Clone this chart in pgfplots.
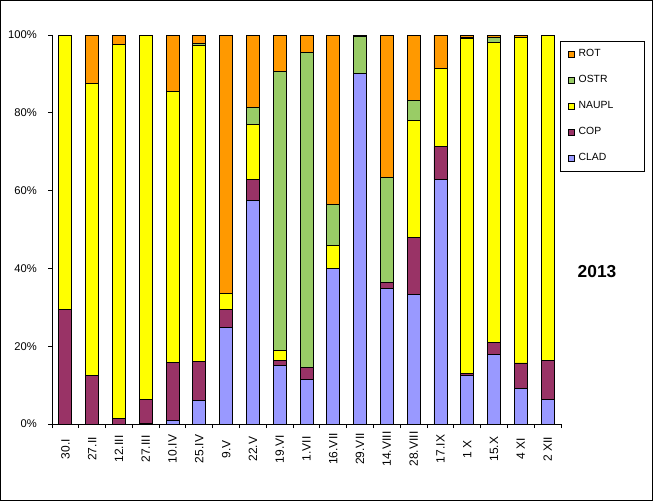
\documentclass[border=0pt]{standalone}
\usepackage{fontspec}
\setmainfont{Liberation Sans}
\usepackage{pgfplots}
\pgfplotsset{compat=1.18}
\usepackage{pgfplotstable}

\definecolor{clad}{HTML}{9999FF}
\definecolor{cop}{HTML}{993366}
\definecolor{naupl}{HTML}{FFFF00}
\definecolor{ostr}{HTML}{99CC66}
\definecolor{rot}{HTML}{FF9900}

\pgfplotstableread{
x  CLAD COP  NAUPL OSTR ROT
0  0    29.5 70.5  0    0
1  0    12.5 75.1  0    12.4
2  0    1.5  96.1  0    2.4
3  0.2  6.1  93.7  0    0
4  1.0  14.9 69.6  0    14.5
5  6.1  10.0 81.2  0.6  2.1
6  24.9 4.6  4.1   0    66.4
7  57.5 5.4  14.1  4.4  18.6
8  15.0 1.4  2.5   71.8 9.3
9  11.5 3.1  0     80.9 4.5
10 40.0 0    5.9   10.6 43.5
11 90.1 0    0     9.5  0.4
12 34.8 1.6  0     27.0 36.6
13 33.3 14.7 30.0  5.2  16.8
14 62.9 8.4  20.0  0    8.7
15 12.5 0.6  85.9  0.3  0.7
16 17.9 3.1  77.1  1.3  0.6
17 9.2  6.5  83.7  0    0.6
18 6.3  10.1 83.6  0    0
}\data

\pgfplotsset{
  sqleg/.style={legend image code/.code={\draw[##1,line width=0.4pt] (0pt,-2.25pt) rectangle (4.5pt,2.25pt);}},
}

\begin{document}
\begin{tikzpicture}[x=1pt,y=1pt]
\draw[line width=0.75pt] (0.375,0.375) rectangle (489.375,375.375);
\begin{axis}[
  at={(39pt,57.75pt)}, anchor=south west,
  width=381.75pt, height=291.75pt, scale only axis,
  ybar stacked, bar width=9.75pt,
  xmin=-0.5, xmax=18.5, ymin=0, ymax=100,
  axis x line=bottom, axis y line=left,
  axis line style={-, line width=0.75pt},
  tick align=outside,
  major tick length=3pt,
  tick style={black, line width=0.75pt},
  xtick={-0.5,0.5,...,18.5},
  xticklabel=\empty,
  extra x ticks={0,1,...,18},
  extra x tick labels={30.I,27.II,12.III,27.III,10.IV,25.IV,9.V,22.V,19.VI,1.VII,16.VII,29.VII,14.VIII,28.VIII,17.IX,1 X,15.X,4 XI,2 XII},
  extra x tick style={major tick length=0pt,
    xticklabel style={yshift=-18.75pt, rotate=90, anchor=center, inner sep=0pt, font=\fontsize{9}{10}\selectfont}},
  ytick={0,20,...,100},
  yticklabels={0\%,20\%,40\%,60\%,80\%,100\%},
  yticklabel style={anchor=east, inner sep=0pt, xshift=-8.25pt, font=\fontsize{8.4}{10}\selectfont},
  reverse legend,
  legend cell align=left,
  legend style={at={(rel axis cs:0.998,0.985)}, anchor=north west,
    draw=black, line width=0.75pt, font=\fontsize{7.8}{9}\selectfont,
    inner xsep=5.5pt, inner ysep=0pt, row sep=0pt,
    nodes={minimum height=19.5pt, inner sep=1pt, text width=43pt},
    /tikz/every odd column/.append style={column sep=2.25pt}},
  clip=false,
]
\addplot+[sqleg, fill=clad, draw=black, line width=0.6pt] table[x=x,y=CLAD] {\data};
\addplot+[sqleg, fill=cop, draw=black, line width=0.6pt] table[x=x,y=COP] {\data};
\addplot+[sqleg, fill=naupl, draw=black, line width=0.6pt] table[x=x,y=NAUPL] {\data};
\addplot+[sqleg, fill=ostr, draw=black, line width=0.6pt] table[x=x,y=OSTR] {\data};
\addplot+[sqleg, fill=rot, draw=black, line width=0.6pt] table[x=x,y=ROT] {\data};
\legend{CLAD,COP,NAUPL,OSTR,ROT}
\end{axis}
\node[font=\bfseries\fontsize{13}{15}\selectfont] at (447.75,171.75) {2013};
\end{tikzpicture}
\end{document}
